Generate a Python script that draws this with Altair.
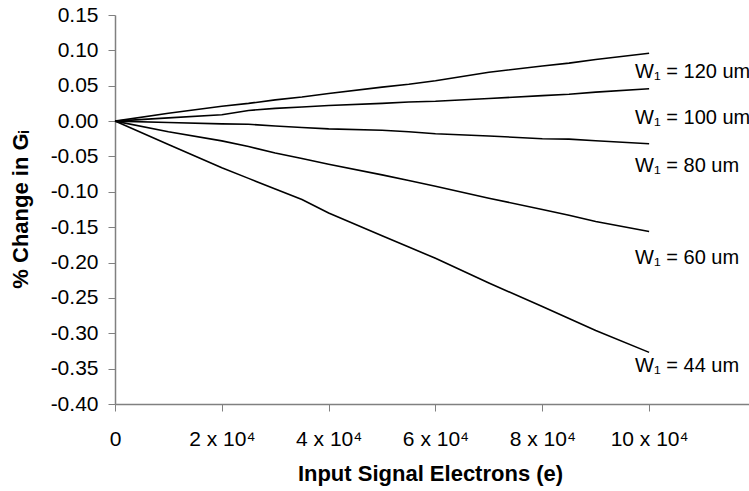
import altair as alt
import pandas as pd

# Input signal electrons (e)
electrons = [0, 10000, 20000, 25000, 30000, 35000, 40000, 50000, 55000,
             60000, 70000, 80000, 85000, 90000, 100000]

# % change in Gi for each W1 width
w120 = [0, 0.011, 0.021, 0.025, 0.030, 0.034, 0.039, 0.048, 0.052,
        0.057, 0.069, 0.078, 0.082, 0.087, 0.096]
w100 = [0, 0.0045, 0.009, 0.015, 0.018, 0.020, 0.022, 0.025, 0.027,
        0.028, 0.032, 0.036, 0.038, 0.041, 0.0457]
w80 = [0, -0.002, -0.004, -0.0045, -0.007, -0.009, -0.011, -0.013, -0.015,
       -0.018, -0.021, -0.025, -0.0255, -0.0277, -0.032]
w60 = [0, -0.015, -0.028, -0.036, -0.045, -0.053, -0.061, -0.076, -0.084,
       -0.092, -0.109, -0.125, -0.133, -0.142, -0.156]
w44 = [0, -0.033, -0.066, -0.081, -0.096, -0.111, -0.130, -0.162, -0.178,
       -0.194, -0.229, -0.262, -0.279, -0.296, -0.327]

series_names = ["W\u2081 = 120 um", "W\u2081 = 100 um", "W\u2081 = 80 um",
                "W\u2081 = 60 um", "W\u2081 = 44 um"]
series_values = [w120, w100, w80, w60, w44]

# vertical pixel offset of each end label below its line's last point
label_dy = [19, 29, 22, 27, 14]

x_ticks = [0, 20000, 40000, 60000, 80000, 100000]
y_ticks = [0.15, 0.10, 0.05, 0.0, -0.05, -0.10, -0.15, -0.20, -0.25,
           -0.30, -0.35, -0.40]

rows = []
for name, vals in zip(series_names, series_values):
    for e, v in zip(electrons, vals):
        rows.append({"series": name, "e": e, "g": v})
df = pd.DataFrame(rows)

FONT = "Liberation Sans"

x_enc = alt.X(
    "e:Q",
    scale=alt.Scale(domain=[0, 118700], nice=False, zero=False),
    axis=alt.Axis(
        values=x_ticks,
        labelExpr="datum.value == 0 ? '0' : (datum.value / 10000) + ' x 10\u2074'",
        title="Input Signal Electrons (e)",
        titleX=315, titleY=69, titleBaseline="middle", titleAnchor="middle",
        labelPadding=17, labelFontSize=21, titleFontSize=22,
        labelFlush=False, labelOverlap=False,
    ),
)
y_enc = alt.Y(
    "g:Q",
    scale=alt.Scale(domain=[-0.40, 0.15], nice=False, zero=False),
    axis=alt.Axis(
        values=y_ticks,
        labelExpr="replace(format(datum.value, '.2f'), '\u2212', '-')",
        title="% Change in G\u1d62",
        titleAngle=-90, titleX=-95, titleY=194, titleBaseline="middle",
        titleAlign="center",
        labelPadding=10, labelFontSize=21, titleFontSize=22,
        labelOverlap=False, labelFlush=False,
    ),
)

lines = alt.Chart(df).mark_line(color="black", strokeWidth=1.6).encode(
    x=x_enc, y=y_enc, detail="series:N"
)

layers = [lines]
for name, vals, dy in zip(series_names, series_values, label_dy):
    end = pd.DataFrame({"e": [electrons[-1]], "g": [vals[-1]], "label": [name]})
    layers.append(
        alt.Chart(end).mark_text(
            align="left", baseline="middle", dx=-14, dy=dy,
            fontSize=20, font=FONT, color="black",
        ).encode(x=x_enc, y=y_enc, text="label:N")
    )

chart = alt.layer(*layers).properties(
    width=634,
    height=389,
    padding={"left": 115, "top": 15, "right": 0, "bottom": 87},
    autosize=alt.AutoSizeParams(type="none"),
    background="white",
).configure_view(stroke=None).configure_axis(
    grid=False,
    domainColor="#808080",
    tickColor="#808080",
    tickSize=7,
    domainWidth=1.5,
    labelFont=FONT,
    titleFont=FONT,
    labelColor="black",
    titleColor="black",
    titleFontWeight="bold",
)

chart.save("out.html", embed_options={"renderer": "svg", "actions": False})
